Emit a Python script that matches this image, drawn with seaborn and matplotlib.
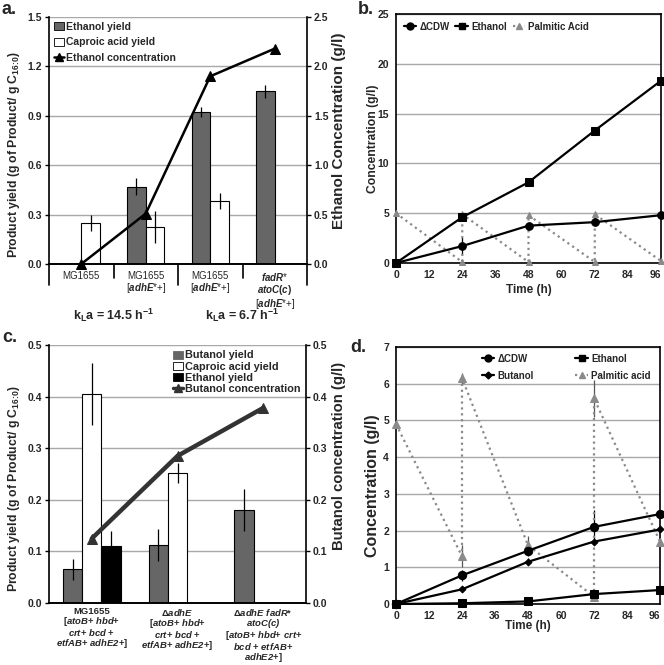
import numpy as np
import pandas as pd
import matplotlib
matplotlib.use("Agg")
import matplotlib.pyplot as plt
import seaborn as sns
from matplotlib.patches import Patch
from matplotlib.lines import Line2D
from matplotlib.ticker import FormatStrFormatter, MultipleLocator

sns.set_theme(style="white")
plt.rcParams['font.family'] = ['Liberation Sans', 'DejaVu Sans']
plt.rcParams['font.weight'] = 'bold'
plt.rcParams['axes.labelweight'] = 'bold'
plt.rcParams['mathtext.fontset'] = 'custom'
plt.rcParams['mathtext.rm'] = 'Liberation Sans'
plt.rcParams['mathtext.it'] = 'Liberation Sans:italic'
plt.rcParams['mathtext.bf'] = 'Liberation Sans:bold'
plt.rcParams['mathtext.bfit'] = 'Liberation Sans:italic:bold'

# ---------------- Panel a data ----------------
a_groups = ["g1", "g2", "g3", "g4"]
a_ticklabels = ["MG1655",
                "MG1655\n[$\\mathit{adhE}$*+]",
                "MG1655\n[$\\mathit{adhE}$*+]",
                "$\\mathit{fadR}$*\n$\\mathit{atoC(c)}$\n[$\\mathit{adhE}$*+]"]
a_eth_yield = [np.nan, 0.47, 0.925, 1.05]
a_eth_err = [np.nan, 0.05, 0.03, 0.04]
a_cap_yield = [0.25, 0.225, 0.383, np.nan]
a_cap_err = [0.05, 0.095, 0.05, np.nan]
a_eth_conc = [0.0, 0.51, 1.9, 2.18]
a_eth_conc_err = [0.0, 0.02, 0.04, 0.04]
a_kla = ["k$_\\mathbf{L}$a = 14.5 h$^\\mathbf{-1}$", "k$_\\mathbf{L}$a = 6.7 h$^\\mathbf{-1}$"]

# ---------------- Panel b data ----------------
b_time = [0, 24, 48, 72, 96]
b_cdw = [0.0, 1.7, 3.75, 4.1, 4.8]
b_cdw_err = [0.0, 0.9, 0.25, 0.25, 0.2]
b_eth = [0.0, 4.6, 8.1, 13.3, 18.3]
b_palm_time = [0, 24, 24, 48, 48, 72, 72, 96]
b_palm = [5.0, 0.1, 4.9, 0.1, 4.8, 0.1, 4.9, 0.2]

# ---------------- Panel c data ----------------
c_groups = ["c1", "c2", "c3"]
c_ticklabels = ["MG1655\n[$\\mathbfit{atoB}$+ $\\mathbfit{hbd}$+\n$\\mathbfit{crt}$+ $\\mathbfit{bcd}$ +\n$\\mathbfit{etfAB}$+ $\\mathbfit{adhE2}$+]",
                "Δ$\\mathbfit{adhE}$\n[$\\mathbfit{atoB}$+ $\\mathbfit{hbd}$+\n$\\mathbfit{crt}$+ $\\mathbfit{bcd}$ +\n$\\mathbfit{etfAB}$+ $\\mathbfit{adhE2}$+]",
                "Δ$\\mathbfit{adhE\\ fadR}$*\n$\\mathbfit{atoC(c)}$\n[$\\mathbfit{atoB}$+ $\\mathbfit{hbd}$+ $\\mathbfit{crt}$+\n$\\mathbfit{bcd}$ + $\\mathbfit{etfAB}$+\n$\\mathbfit{adhE2}$+]"]
c_but_yield = [0.065, 0.112, 0.18]
c_but_err = [0.02, 0.031, 0.041]
c_cap_yield = [0.405, 0.252, np.nan]
c_cap_err = [0.06, 0.02, np.nan]
c_eth_yield = [0.11, np.nan, np.nan]
c_eth_err = [0.03, np.nan, np.nan]
c_but_conc = [0.125, 0.285, 0.378]

# ---------------- Panel d data ----------------
d_time = [0, 24, 48, 72, 96]
d_cdw = [0.0, 0.78, 1.45, 2.1, 2.45]
d_cdw_err = [0.0, 0.15, 0.15, 0.45, 0.05]
d_but = [0.0, 0.4, 1.15, 1.7, 2.03]
d_but_err = [0.0, 0.05, 0.1, 0.05, 0.05]
d_eth = [0.0, 0.02, 0.07, 0.27, 0.38]
d_palm_time = [0, 24, 24, 48, 72, 72, 96]
d_palm = [4.9, 1.3, 6.15, 1.6, 0.2, 5.6, 1.7]
d_palm_err = [0.0, 0.3, 0.15, 0.25, 0.05, 0.5, 0.1]

time_ticks = [0, 12, 24, 36, 48, 60, 72, 84, 96]
yield_label = 'Product yield (g of Product/ g C$_\\mathbf{16\\!:\\!0}$)'

GRAY = '#666666'
PGRAY = '#8a8a8a'
GRID = '#a8a8a8'

W, H = 664, 665
fig = plt.figure(figsize=(W / 100, H / 100), dpi=100)


def axrect(l, t, r, b):
    return [l / W, 1 - b / H, (r - l) / W, (b - t) / H]


def style(ax, top=True, right=True):
    for s in ax.spines.values():
        s.set_color('black')
        s.set_linewidth(1.2)
    ax.spines['top'].set_visible(top)
    ax.spines['right'].set_visible(right)
    ax.set_axisbelow(True)
    ax.yaxis.grid(True, color=GRID, lw=1.0)
    ax.xaxis.grid(False)
    ax.tick_params(axis='both', which='both', direction='out', length=3, width=1,
                   color='black', labelsize=7.5, pad=2)
    for lab in ax.get_xticklabels() + ax.get_yticklabels():
        lab.set_fontweight('bold')


def bars(ax, groups, series, names, colors, width):
    rows = []
    for name, vals in zip(names, series):
        for g, v in zip(groups, vals):
            if not np.isnan(v):
                rows.append({'group': g, 'series': name, 'value': v})
    df = pd.DataFrame(rows)
    sns.barplot(data=df, x='group', y='value', hue='series', order=groups, hue_order=names,
                palette=dict(zip(names, colors)), width=width, errorbar=None,
                edgecolor='black', linewidth=0.8, legend=False, ax=ax, saturation=1)


def errs(ax, series, errors, width, n):
    for j, (vals, e) in enumerate(zip(series, errors)):
        x = np.arange(len(vals)) + (j - (n - 1) / 2) * width / n
        ax.errorbar(x, vals, yerr=e, fmt='none', ecolor='black', elinewidth=0.9, capsize=0, zorder=5)


def time_axis(ax):
    ax.set_xticks(time_ticks)
    ax.set_xticklabels([str(t) for t in time_ticks])
    ax.get_xticklabels()[-1].set_horizontalalignment('right')


# ================= Panel a =================
axA = fig.add_axes(axrect(49, 17, 307, 264))
wA = 0.58
bars(axA, a_groups, [a_eth_yield, a_cap_yield], ['Ethanol yield', 'Caproic acid yield'], [GRAY, 'white'], wA)
errs(axA, [a_eth_yield, a_cap_yield], [a_eth_err, a_cap_err], wA, 2)
axA.set_ylim(0, 1.5)
axA.yaxis.set_major_locator(MultipleLocator(0.3))
axA.yaxis.set_major_formatter(FormatStrFormatter('%.1f'))
axA.set_xlabel('')
axA.set_ylabel(yield_label, fontsize=8.8)
axA.yaxis.set_label_coords(-0.105, 0.445)
style(axA, top=False, right=False)
axA.set_xticks(range(4))
axA.set_xticklabels(a_ticklabels, fontsize=7, fontweight='normal', linespacing=1.0)
axA.tick_params(axis='x', length=0, pad=5)
for lab in axA.get_xticklabels():
    lab.set_fontweight('normal')
trA = axA.get_xaxis_transform()
for xb, ln in zip([-0.5, 0.5, 1.5, 2.5, 3.5], [0.085, 0.055, 0.085, 0.055, 0.085]):
    axA.plot([xb, xb], [0, -ln], transform=trA, clip_on=False, color='black', lw=1.2)
for xc, txt in zip([0.5, 2.5], a_kla):
    axA.text(xc, -0.207, txt, transform=trA, ha='center', va='center', fontsize=9, fontweight='bold')

axA2 = axA.twinx()
sns.lineplot(x=np.arange(4), y=a_eth_conc, ax=axA2, color='black', marker='^', markersize=7,
             markeredgecolor='black', linewidth=1.8, clip_on=False, zorder=6)
axA2.errorbar(np.arange(4), a_eth_conc, yerr=a_eth_conc_err, fmt='none', ecolor='black', elinewidth=0.9)
axA2.set_ylim(0, 2.5)
axA2.yaxis.set_major_locator(MultipleLocator(0.5))
axA2.yaxis.set_major_formatter(FormatStrFormatter('%.1f'))
axA2.set_ylabel('Ethanol Concentration (g/l)', fontsize=11, rotation=90)
axA2.yaxis.set_label_coords(1.095, 0.54)
style(axA2, top=False, right=True)
axA2.yaxis.grid(False)
axA2.spines['left'].set_visible(False)
axA.set_xlim(-0.5, 3.5)
axA2.set_xlim(-0.5, 3.5)
hA = [Patch(fc=GRAY, ec='black', lw=0.6), Patch(fc='white', ec='black', lw=0.6),
      Line2D([], [], color='black', marker='^', lw=1.8, ms=6)]
axA2.legend(hA, ['Ethanol yield', 'Caproic acid yield', 'Ethanol concentration'], loc='upper left',
            bbox_to_anchor=(0.0, 1.0), frameon=False, prop={'size': 7.5, 'weight': 'bold'},
            handlelength=1.0, handleheight=0.8, handletextpad=0.15, labelspacing=0.55,
            borderaxespad=0.25, borderpad=0.2)

# ================= Panel b =================
axB = fig.add_axes(axrect(396, 14, 661, 263))
sns.lineplot(x=b_palm_time, y=b_palm, ax=axB, estimator=None, sort=False, color=PGRAY,
             linestyle=':', linewidth=1.6, marker='^', markersize=5, markeredgecolor=PGRAY,
             clip_on=False, zorder=3)
sns.lineplot(x=b_time, y=b_cdw, ax=axB, color='black', marker='o', markersize=5.5,
             markeredgecolor='black', linewidth=1.6, clip_on=False, zorder=4)
axB.errorbar(b_time, b_cdw, yerr=b_cdw_err, fmt='none', ecolor='black', elinewidth=0.9)
sns.lineplot(x=b_time, y=b_eth, ax=axB, color='black', marker='s', markersize=6,
             markeredgecolor='black', linewidth=1.6, clip_on=False, zorder=4)
axB.set_xlim(0, 96)
axB.set_ylim(0, 25)
axB.yaxis.set_major_locator(MultipleLocator(5))
axB.set_xlabel('Time (h)', fontsize=8.5, labelpad=3)
axB.set_ylabel('Concentration (g/l)', fontsize=8.7)
axB.yaxis.set_label_coords(-0.066, 0.5)
time_axis(axB)
style(axB)
hB = [Line2D([], [], color='black', marker='o', lw=1.6, ms=5),
      Line2D([], [], color='black', marker='s', lw=1.6, ms=5),
      Line2D([], [], color=PGRAY, marker='^', lw=1.6, ls=':', ms=5)]
axB.legend(hB, ['ΔCDW', 'Ethanol', 'Palmitic Acid'], loc='upper left', bbox_to_anchor=(0.0, 1.0),
           ncol=3, frameon=False, prop={'size': 7, 'weight': 'bold'}, handlelength=1.3,
           handletextpad=0.3, columnspacing=0.6, borderaxespad=0.4)

# ================= Panel c =================
axC = fig.add_axes(axrect(49, 345, 306, 603))
wC = 0.675
bars(axC, c_groups, [c_but_yield, c_cap_yield, c_eth_yield],
     ['Butanol yield', 'Caproic acid yield', 'Ethanol yield'], [GRAY, 'white', 'black'], wC)
errs(axC, [c_but_yield, c_cap_yield, c_eth_yield], [c_but_err, c_cap_err, c_eth_err], wC, 3)
axC.set_ylim(0, 0.5)
axC.yaxis.set_major_locator(MultipleLocator(0.1))
axC.yaxis.set_major_formatter(FormatStrFormatter('%.1f'))
axC.set_xlabel('')
axC.set_ylabel(yield_label, fontsize=8.8)
axC.yaxis.set_label_coords(-0.105, 0.445)
style(axC, top=False, right=False)
axC.set_xticks([0.5, 1.5], minor=True)
axC.set_xticks(range(3))
axC.set_xticklabels(c_ticklabels, fontsize=6.8, linespacing=0.88, va='top')
axC.tick_params(axis='x', which='major', length=0, pad=3)
axC.tick_params(axis='x', which='minor', length=3, width=1, direction='out')

axC2 = axC.twinx()
sns.lineplot(x=np.arange(3), y=c_but_conc, ax=axC2, color='#333333', marker='^', markersize=7,
             markeredgecolor='#333333', linewidth=3.2, zorder=6)
axC2.set_ylim(0, 0.5)
axC2.yaxis.set_major_locator(MultipleLocator(0.1))
axC2.yaxis.set_major_formatter(FormatStrFormatter('%.1f'))
axC2.set_ylabel('Butanol concentration (g/l)', fontsize=10.7, rotation=90)
axC2.yaxis.set_label_coords(1.1, 0.57)
style(axC2, top=False, right=True)
axC2.yaxis.grid(False)
axC2.spines['left'].set_visible(False)
axC.set_xlim(-0.5, 2.5)
axC2.set_xlim(-0.5, 2.5)
hC = [Patch(fc=GRAY, ec=GRAY, lw=0.6), Patch(fc='white', ec='black', lw=0.6),
      Patch(fc='black', ec='black', lw=0.6),
      Line2D([], [], color='#333333', marker='^', lw=2.5, ms=6)]
axC2.legend(hC, ['Butanol yield', 'Caproic acid yield', 'Ethanol yield', 'Butanol concentration'],
            loc='upper right', bbox_to_anchor=(1.0, 1.0), frameon=False,
            prop={'size': 7.8, 'weight': 'bold'}, handlelength=1.0, handleheight=0.75,
            handletextpad=0.15, labelspacing=0.12, borderaxespad=0.3, borderpad=0.2)

# ================= Panel d =================
axD = fig.add_axes(axrect(396, 347, 660, 604))
sns.lineplot(x=d_palm_time, y=d_palm, ax=axD, estimator=None, sort=False, color=PGRAY,
             linestyle=':', linewidth=1.6, marker='^', markersize=5.5, markeredgecolor=PGRAY,
             clip_on=False, zorder=3)
axD.errorbar(d_palm_time, d_palm, yerr=d_palm_err, fmt='none', ecolor='#555555', elinewidth=0.9)
sns.lineplot(x=d_time, y=d_cdw, ax=axD, color='black', marker='o', markersize=6,
             markeredgecolor='black', linewidth=1.6, clip_on=False, zorder=4)
axD.errorbar(d_time, d_cdw, yerr=d_cdw_err, fmt='none', ecolor='black', elinewidth=0.9)
sns.lineplot(x=d_time, y=d_but, ax=axD, color='black', marker='D', markersize=3.5,
             markeredgecolor='black', linewidth=1.6, clip_on=False, zorder=4)
axD.errorbar(d_time, d_but, yerr=d_but_err, fmt='none', ecolor='black', elinewidth=0.9)
sns.lineplot(x=d_time, y=d_eth, ax=axD, color='black', marker='s', markersize=6,
             markeredgecolor='black', linewidth=1.6, clip_on=False, zorder=4)
axD.set_xlim(0, 96)
axD.set_ylim(0, 7)
axD.yaxis.set_major_locator(MultipleLocator(1))
axD.set_xlabel('Time (h)', fontsize=8.5, labelpad=-1)
axD.set_ylabel('Concentration (g/l)', fontsize=11.5)
axD.yaxis.set_label_coords(-0.062, 0.46)
time_axis(axD)
style(axD)
hD = [Line2D([], [], color='black', marker='o', lw=1.6, ms=5),
      Line2D([], [], color='black', marker='D', lw=1.6, ms=3.5),
      Line2D([], [], color='black', marker='s', lw=1.6, ms=5),
      Line2D([], [], color=PGRAY, marker='^', lw=1.6, ls=':', ms=5)]
axD.legend(hD, ['ΔCDW', 'Butanol', 'Ethanol', 'Palmitic acid'], loc='upper right',
           bbox_to_anchor=(0.99, 1.0), ncol=2, frameon=False, prop={'size': 7, 'weight': 'bold'},
           handlelength=1.3, handletextpad=0.3, columnspacing=4.3, labelspacing=0.7,
           borderaxespad=0.3)

# panel letters
for x, y, t in [(2, 9, 'a.'), (358, 9, 'b.'), (2, 337, 'c.'), (350, 347, 'd.')]:
    fig.text(x / W, 1 - y / H, t, fontsize=13, fontweight='bold', ha='left', va='center')

fig.savefig('out.png', dpi=100)
